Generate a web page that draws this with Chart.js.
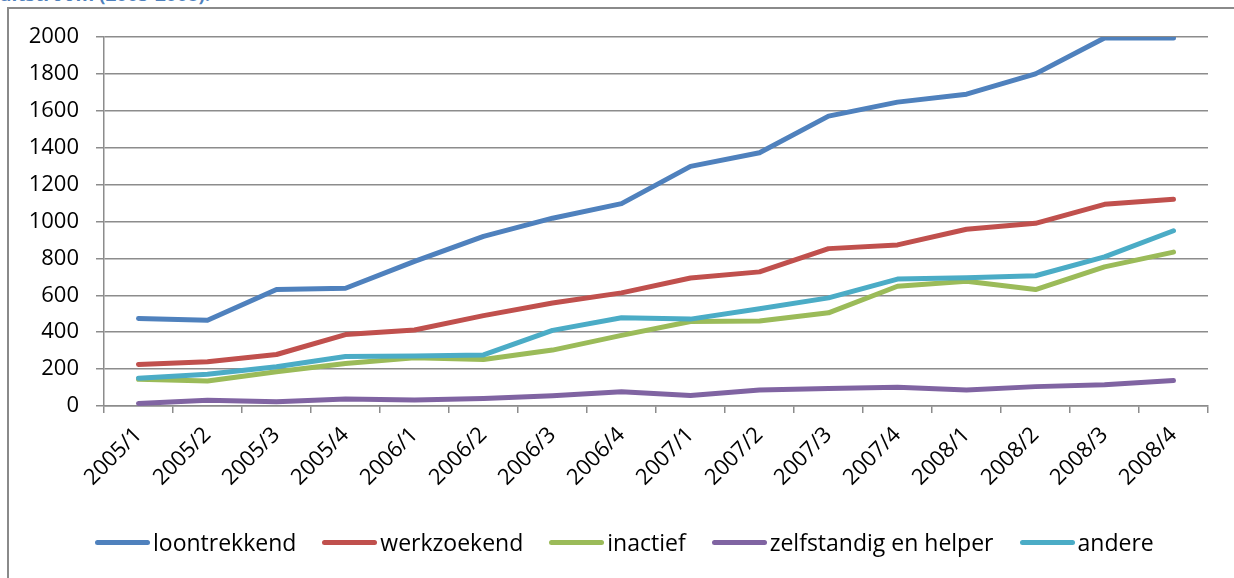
<!DOCTYPE html>
<html lang="nl">
<head>
    <meta charset="UTF-8">
    <title>Uitstroom (2005-2008)</title>
    <script src="https://cdn.jsdelivr.net/npm/chart.js@4.4.1/dist/chart.umd.min.js"></script>
    <style>
        html, body { margin: 0; padding: 0; background: #fff; overflow: hidden; }
        body { width: 1234px; height: 578px; position: relative; font-family: 'Open Sans', 'Noto Sans', sans-serif; }
        #heading { position: absolute; left: -1px; top: -15px; font-size: 19px; line-height: 19px; font-weight: bold; color: #4f81bd; white-space: nowrap; }
        #frame { position: absolute; left: 7px; top: 7px; width: 1260px; height: 620px; border: 2px solid #8a8a8a; box-sizing: border-box; }
        #wrap { position: absolute; left: 0; top: 0; width: 1234px; height: 578px; }
        #legend { position: absolute; left: 95px; top: 526px; display: flex; align-items: center; gap: 26px; font-size: 23px; color: #000; white-space: nowrap; }
        .item { display: flex; align-items: center; }
        .swatch { width: 55px; height: 5px; border-radius: 3px; margin-right: 3px; }
    </style>
</head>
<body>
    <div id="heading">uitstroom (2005-2008).</div>
    <div id="frame"></div>
    <div id="wrap"><canvas id="chart" width="1234" height="578"></canvas></div>
    <div id="legend"></div>

    <script>
        // quarters on the x axis
        const quarters = ['2005/1', '2005/2', '2005/3', '2005/4', '2006/1', '2006/2', '2006/3', '2006/4',
                          '2007/1', '2007/2', '2007/3', '2007/4', '2008/1', '2008/2', '2008/3', '2008/4'];

        const seriesNames = ['loontrekkend', 'werkzoekend', 'inactief', 'zelfstandig en helper', 'andere'];
        const seriesColors = ['#4f81bd', '#c0504d', '#9bbb59', '#8064a2', '#4bacc6'];

        const loontrekkend = [474, 465, 631, 638, 784, 919, 1018, 1097, 1299, 1373, 1571, 1647, 1690, 1800, 1995, 1995];
        const werkzoekend  = [225, 240, 279, 387, 412, 490, 558, 613, 694, 727, 853, 873, 958, 990, 1093, 1121];
        const inactief     = [145, 136, 186, 230, 262, 252, 303, 383, 458, 461, 505, 649, 676, 631, 754, 834];
        const zelfstandig  = [14, 31, 23, 38, 32, 40, 56, 77, 57, 87, 95, 101, 87, 105, 115, 138];
        const andere       = [151, 172, 213, 268, 271, 277, 410, 478, 471, 527, 586, 688, 695, 706, 808, 950];

        const yTicks = [0, 200, 400, 600, 800, 1000, 1200, 1400, 1600, 1800, 2000];

        const seriesValues = [loontrekkend, werkzoekend, inactief, zelfstandig, andere];
        const gridColor = '#8c8c8c';
        const tickFont = { family: "'Open Sans', 'Noto Sans', sans-serif", size: 22 };

        const datasets = seriesNames.map((name, i) => ({
            label: name,
            data: seriesValues[i],
            borderColor: seriesColors[i],
            backgroundColor: seriesColors[i],
            borderWidth: 5,
            borderCapStyle: 'round',
            borderJoinStyle: 'round',
            pointRadius: 0,
            tension: 0,
            fill: false,
            // later series on top, like the original
            order: seriesNames.length - i
        }));

        new Chart(document.getElementById('chart'), {
            type: 'line',
            data: { labels: quarters, datasets: datasets },
            options: {
                responsive: false,
                animation: false,
                layout: { padding: { left: 10, top: 37, right: 26, bottom: 0 } },
                plugins: { legend: { display: false }, tooltip: { enabled: false } },
                scales: {
                    x: {
                        offset: true,
                        afterFit: function(scale) { scale.height = 172; },
                        grid: { display: true, drawOnChartArea: false, drawTicks: true, tickLength: 7, offset: true, color: gridColor, lineWidth: 1.5 },
                        border: { display: true, color: gridColor, width: 1.5 },
                        ticks: { minRotation: 45, maxRotation: 45, autoSkip: false, color: '#000', font: tickFont, padding: 9 }
                    },
                    y: {
                        min: 0,
                        max: 2000,
                        afterFit: function(scale) { scale.width = 94; },
                        afterBuildTicks: function(scale) { scale.ticks = yTicks.map(v => ({ value: v })); },
                        grid: { color: gridColor, lineWidth: 1.5, drawTicks: true, tickLength: 8 },
                        border: { display: true, color: gridColor, width: 1.5 },
                        ticks: { color: '#000', font: tickFont, padding: 17, callback: function(v) { return String(v); } }
                    }
                }
            }
        });

        // legend row under the chart
        const legendEl = document.getElementById('legend');
        seriesNames.forEach((name, i) => {
            const item = document.createElement('div');
            item.className = 'item';
            const sw = document.createElement('span');
            sw.className = 'swatch';
            sw.style.background = seriesColors[i];
            const txt = document.createElement('span');
            txt.textContent = name;
            item.appendChild(sw);
            item.appendChild(txt);
            legendEl.appendChild(item);
        });
    </script>
</body>
</html>
